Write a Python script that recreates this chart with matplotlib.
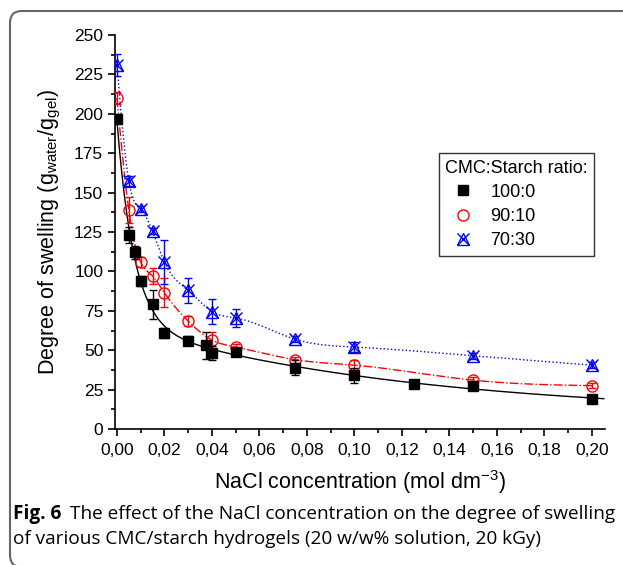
import numpy as np
import matplotlib
matplotlib.use('Agg')
import matplotlib.pyplot as plt
from matplotlib.patches import FancyBboxPatch
from matplotlib.transforms import IdentityTransform
from matplotlib.ticker import MultipleLocator, FuncFormatter

plt.rcParams['font.family'] = ['Liberation Sans', 'DejaVu Sans']
plt.rcParams['mathtext.default'] = 'regular'

# data
nacl_black = [0.0, 0.005, 0.0075, 0.010, 0.015, 0.020, 0.030, 0.0375, 0.040, 0.050, 0.075, 0.100, 0.125, 0.150, 0.200]
sw_black = [197, 123, 112, 94, 79, 61, 56, 53, 48, 49, 39, 34, 28.5, 27, 19]
err_black = [2, 5, 4, 3, 9, 3, 3, 8.5, 4.5, 1.5, 5, 5, 1, 1, 1]

nacl_red = [0.0, 0.005, 0.010, 0.015, 0.020, 0.030, 0.040, 0.050, 0.075, 0.100, 0.150, 0.200]
sw_red = [210, 139, 106, 97, 86.5, 68.5, 56.5, 52, 44, 40.5, 31, 27.5]
err_red = [4, 8, 3, 5, 9, 3, 5, 2, 2, 3, 2, 1.5]

nacl_blue = [0.0, 0.005, 0.010, 0.015, 0.020, 0.030, 0.040, 0.050, 0.075, 0.100, 0.150, 0.200]
sw_blue = [231, 157.5, 139.5, 125.5, 106, 88, 74.5, 70.5, 57, 52, 46.5, 40.5]
err_blue = [7, 3, 2, 2, 14, 8, 8, 5.5, 2, 3, 2, 2]

legend_labels = ['100:0', '90:10', '70:30']


def natural_spline(x, y, xs):
    # natural cubic spline through the measured points
    x = np.asarray(x, float); y = np.asarray(y, float)
    n = len(x)
    h = np.diff(x)
    A = np.zeros((n, n)); b = np.zeros(n)
    A[0, 0] = 1; A[-1, -1] = 1
    for i in range(1, n - 1):
        A[i, i - 1] = h[i - 1]
        A[i, i] = 2 * (h[i - 1] + h[i])
        A[i, i + 1] = h[i]
        b[i] = 6 * ((y[i + 1] - y[i]) / h[i] - (y[i] - y[i - 1]) / h[i - 1])
    M = np.linalg.solve(A, b)
    idx = np.clip(np.searchsorted(x, xs) - 1, 0, n - 2)
    x0, x1 = x[idx], x[idx + 1]; hh = x1 - x0
    t0, t1 = x1 - xs, xs - x0
    return (M[idx] * t0**3 + M[idx + 1] * t1**3) / (6 * hh) + \
        (y[idx] / hh - M[idx] * hh / 6) * t0 + (y[idx + 1] / hh - M[idx + 1] * hh / 6) * t1


def exp_fit(x, y, xs):
    # y = c + A1 exp(-x/t1) + A2 exp(-x/t2), taus by grid search
    x = np.asarray(x, float); y = np.asarray(y, float)
    best = None
    for t1 in np.linspace(0.001, 0.02, 60):
        for t2 in np.linspace(0.02, 0.6, 80):
            X = np.column_stack([np.ones_like(x), np.exp(-x / t1), np.exp(-x / t2)])
            coef, *_ = np.linalg.lstsq(X, y, rcond=None)
            r = np.sum((X @ coef - y) ** 2)
            if best is None or r < best[0]:
                best = (r, t1, t2, coef)
    _, t1, t2, coef = best
    return coef[0] + coef[1] * np.exp(-xs / t1) + coef[2] * np.exp(-xs / t2)


fig = plt.figure(figsize=(6.23, 5.65), dpi=100)
ax = fig.add_axes([115 / 623, 136 / 565, 490 / 623, 394 / 565])

xs = np.linspace(0, 0.2, 600)
xs_b = np.linspace(0, 0.205, 600)
ax.plot(xs_b, exp_fit(nacl_black, sw_black, xs_b), color='black', lw=1, zorder=2)
ax.plot(xs, natural_spline(nacl_red, sw_red, xs), color='red', lw=1, ls='-.', zorder=2)
ax.plot(xs, natural_spline(nacl_blue, sw_blue, xs), color='blue', lw=1, ls=':', zorder=2)

ax.errorbar(nacl_black, sw_black, yerr=err_black, fmt='s', color='black', ms=6.5,
            capsize=3, elinewidth=1, capthick=1, zorder=4)
ax.errorbar(nacl_red, sw_red, yerr=err_red, fmt='o', mfc='none', mec='red', ecolor='red',
            ms=8, capsize=3, elinewidth=1, capthick=1, zorder=3)
ax.errorbar(nacl_blue, sw_blue, yerr=err_blue, fmt='none', ecolor='blue',
            capsize=3, elinewidth=1, capthick=1, zorder=3)
ax.plot(nacl_blue, sw_blue, ls='none', marker='^', mfc='none', mec='blue', ms=9, mew=1, zorder=3)
ax.plot(nacl_blue, sw_blue, ls='none', marker='x', color='blue', ms=9, mew=1, zorder=3)

# legend handles
h1, = ax.plot([], [], 's', color='black', ms=6.5)
h2, = ax.plot([], [], 'o', mfc='none', mec='red', ms=8)
h3a, = ax.plot([], [], '^', mfc='none', mec='blue', ms=9)
h3b, = ax.plot([], [], 'x', color='blue', ms=9)
leg = ax.legend([h1, h2, (h3a, h3b)], legend_labels, title='CMC:Starch ratio:',
                loc='upper right', bbox_to_anchor=(0.978, 0.70), fontsize=13,
                title_fontsize=13, fancybox=False, edgecolor='#333333',
                handlelength=2.0, handletextpad=0.5, labelspacing=0.4,
                borderpad=0.35, borderaxespad=0, framealpha=1, alignment='left')
leg.get_frame().set_linewidth(1)

ax.set_xlim(-0.0008, 0.2055)
ax.set_ylim(0, 250)
ax.spines['top'].set_visible(False)
ax.spines['right'].set_visible(False)
ax.spines['left'].set_linewidth(1.2)
ax.spines['bottom'].set_linewidth(1.2)
ax.xaxis.set_major_locator(MultipleLocator(0.02))
ax.xaxis.set_minor_locator(MultipleLocator(0.01))
ax.yaxis.set_major_locator(MultipleLocator(25))
ax.yaxis.set_minor_locator(MultipleLocator(12.5))
ax.xaxis.set_major_formatter(FuncFormatter(lambda v, p: f'{v:.2f}'.replace('.', ',')))
ax.tick_params(which='major', length=5, width=1.2, labelsize=12.5)
ax.tick_params(axis='x', which='major', pad=5)
ax.tick_params(which='minor', length=3, width=1.2)

ax.set_xlabel('NaCl concentration (mol dm$^{-3}$)', fontsize=15.5, labelpad=7)
ax.set_ylabel('Degree of swelling (g$_{water}$/g$_{gel}$)', fontsize=15.5, labelpad=8)

# rounded frame around figure
frame = FancyBboxPatch((10, -2), 700, 556, boxstyle='round,pad=0,rounding_size=12',
                       transform=IdentityTransform(), fill=False, edgecolor='#666666',
                       lw=1.5, clip_on=False)
fig.patches.append(frame)

# caption
cap_font = ['Open Sans', 'DejaVu Sans']
r = fig.canvas.get_renderer()
t = fig.text(13 / 623, 1 - 519 / 565, 'Fig. 6', fontsize=13.7, fontweight='bold',
             family=cap_font, va='baseline')
bb = t.get_window_extent(renderer=r)
fig.text((bb.x1 + 9) / 623, 1 - 519 / 565,
         'The effect of the NaCl concentration on the degree of swelling',
         fontsize=13.7, family=cap_font, va='baseline')
fig.text(13 / 623, 1 - 544 / 565,
         'of various CMC/starch hydrogels (20 w/w% solution, 20 kGy)',
         fontsize=13.7, family=cap_font, va='baseline')

fig.savefig('out.png', dpi=100)
